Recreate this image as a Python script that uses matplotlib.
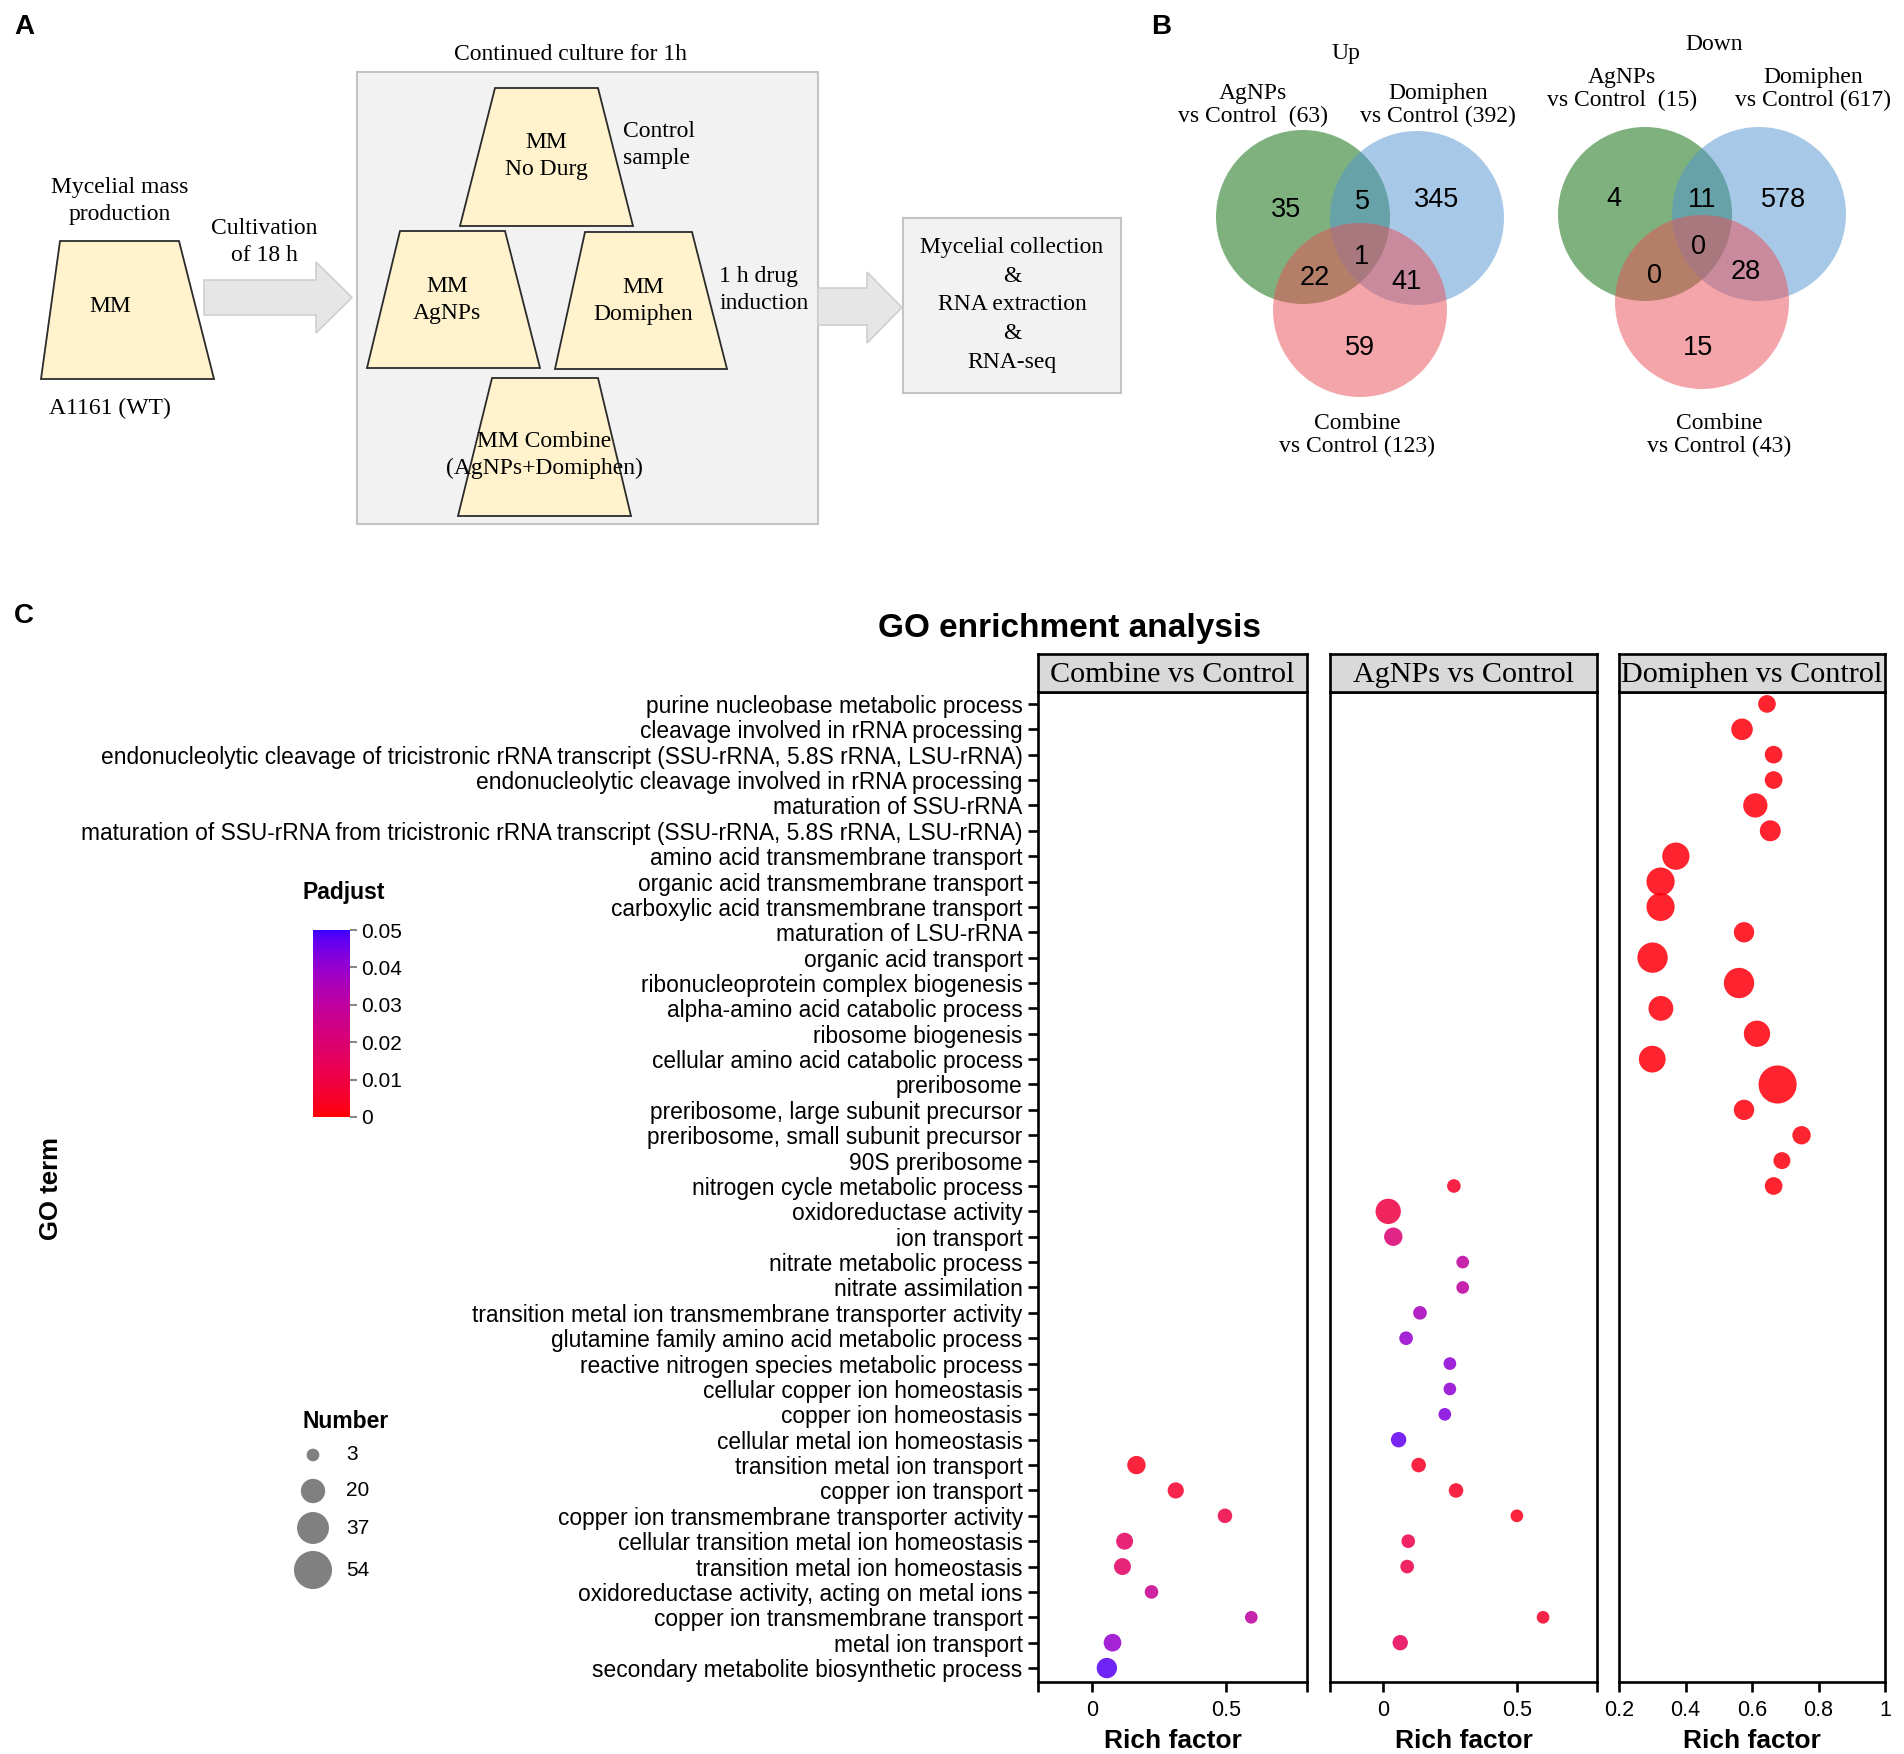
import numpy as np
import matplotlib
matplotlib.use("Agg")
import matplotlib.pyplot as plt
from matplotlib.patches import Polygon, Rectangle, Circle
from matplotlib.colors import ListedColormap
from matplotlib.cm import ScalarMappable
from matplotlib.colors import Normalize

# ---------------- DATA ----------------
go_terms = [
    "purine nucleobase metabolic process",
    "cleavage involved in rRNA processing",
    "endonucleolytic cleavage of tricistronic rRNA transcript (SSU-rRNA, 5.8S rRNA, LSU-rRNA)",
    "endonucleolytic cleavage involved in rRNA processing",
    "maturation of SSU-rRNA",
    "maturation of SSU-rRNA from tricistronic rRNA transcript (SSU-rRNA, 5.8S rRNA, LSU-rRNA)",
    "amino acid transmembrane transport",
    "organic acid transmembrane transport",
    "carboxylic acid transmembrane transport",
    "maturation of LSU-rRNA",
    "organic acid transport",
    "ribonucleoprotein complex biogenesis",
    "alpha-amino acid catabolic process",
    "ribosome biogenesis",
    "cellular amino acid catabolic process",
    "preribosome",
    "preribosome, large subunit precursor",
    "preribosome, small subunit precursor",
    "90S preribosome",
    "nitrogen cycle metabolic process",
    "oxidoreductase activity",
    "ion transport",
    "nitrate metabolic process",
    "nitrate assimilation",
    "transition metal ion transmembrane transporter activity",
    "glutamine family amino acid metabolic process",
    "reactive nitrogen species metabolic process",
    "cellular copper ion homeostasis",
    "copper ion homeostasis",
    "cellular metal ion homeostasis",
    "transition metal ion transport",
    "copper ion transport",
    "copper ion transmembrane transporter activity",
    "cellular transition metal ion homeostasis",
    "transition metal ion homeostasis",
    "oxidoreductase activity, acting on metal ions",
    "copper ion transmembrane transport",
    "metal ion transport",
    "secondary metabolite biosynthetic process",
]

facet_names = ["Combine vs Control", "AgNPs vs Control", "Domiphen vs Control"]

combine_terms = go_terms[30:39]
combine_rich = [0.166, 0.312, 0.495, 0.122, 0.114, 0.222, 0.593, 0.077, 0.056]
combine_number = [10, 7, 5, 8, 8, 4, 3, 9, 13]
combine_padj = [0.003, 0.006, 0.010, 0.016, 0.017, 0.027, 0.030, 0.040, 0.048]

agnps_terms = go_terms[19:35] + go_terms[36:38]
agnps_rich = [0.264, 0.018, 0.037, 0.297, 0.297, 0.137, 0.085, 0.249, 0.249, 0.230,
              0.057, 0.132, 0.272, 0.500, 0.093, 0.089, 0.598, 0.063]
agnps_number = [4, 22, 10, 3, 3, 4, 4, 3, 3, 3, 6, 5, 5, 3, 4, 4, 3, 6]
agnps_padj = [0.005, 0.010, 0.020, 0.030, 0.030, 0.036, 0.040, 0.041, 0.041, 0.043,
              0.047, 0.004, 0.004, 0.003, 0.011, 0.011, 0.005, 0.014]

domiphen_terms = go_terms[0:20]
domiphen_rich = [0.645, 0.570, 0.665, 0.665, 0.610, 0.655, 0.371, 0.325, 0.325, 0.576,
                 0.301, 0.561, 0.326, 0.615, 0.300, 0.677, 0.576, 0.749, 0.690, 0.665]
domiphen_number = [9, 15, 9, 9, 20, 14, 26, 28, 28, 13, 33, 33, 21, 24, 25, 54, 13, 10, 8, 9]
domiphen_padj = [0.001] * 20

size_breaks = [3, 20, 37, 54]
padj_ticks = [0, 0.01, 0.02, 0.03, 0.04, 0.05]
padj_ticklabels = ["0", "0.01", "0.02", "0.03", "0.04", "0.05"]

venn_up_counts = {"A": 35, "AB": 5, "B": 345, "ABC": 1, "AC": 22, "BC": 41, "C": 59}
venn_up_labels = ["AgNPs\nvs Control  (63)", "Domiphen\nvs Control (392)", "Combine\nvs Control (123)"]
venn_down_counts = {"A": 4, "AB": 11, "B": 578, "ABC": 0, "AC": 0, "BC": 28, "C": 15}
venn_down_labels = ["AgNPs\nvs Control  (15)", "Domiphen\nvs Control (617)", "Combine\nvs Control (43)"]

# ---------------- helpers ----------------
W, H = 1904, 1754
SERIF = ["Liberation Serif", "DejaVu Serif"]
SANS = ["Liberation Sans", "DejaVu Sans"]
plt.rcParams["font.family"] = SANS


def rect(x0, y0, x1, y1):
    return [x0 / W, 1 - y1 / H, (x1 - x0) / W, (y1 - y0) / H]


def lab_gradient(c1, c2, n=256):
    def to_lab(rgb):
        rgb = np.asarray(rgb, float)
        lin = np.where(rgb <= 0.04045, rgb / 12.92, ((rgb + 0.055) / 1.055) ** 2.4)
        M = np.array([[0.4124, 0.3576, 0.1805], [0.2126, 0.7152, 0.0722], [0.0193, 0.1192, 0.9505]])
        xyz = M @ lin / np.array([0.95047, 1.0, 1.08883])
        d = 6 / 29
        f = np.where(xyz > d ** 3, np.cbrt(xyz), xyz / (3 * d * d) + 4 / 29)
        return np.array([116 * f[1] - 16, 500 * (f[0] - f[1]), 200 * (f[1] - f[2])])

    def to_rgb(lab):
        L, a, b = lab
        fy = (L + 16) / 116
        fx = fy + a / 500
        fz = fy - b / 200
        d = 6 / 29
        fs = np.array([fx, fy, fz])
        xyz = np.where(fs > d, fs ** 3, 3 * d * d * (fs - 4 / 29)) * np.array([0.95047, 1.0, 1.08883])
        Minv = np.array([[3.2406, -1.5372, -0.4986], [-0.9689, 1.8758, 0.0415], [0.0557, -0.2040, 1.0570]])
        lin = Minv @ xyz
        lin = np.clip(lin, 0, 1)
        rgb = np.where(lin <= 0.0031308, 12.92 * lin, 1.055 * lin ** (1 / 2.4) - 0.055)
        return np.clip(rgb, 0, 1)

    l1, l2 = to_lab(c1), to_lab(c2)
    cols = [to_rgb(l1 + (l2 - l1) * t) for t in np.linspace(0, 1, n)]
    return ListedColormap(cols)


cmap = lab_gradient((1, 0, 0), (0.22, 0.0, 1.0))
norm = Normalize(0, 0.05)


def dot_size(n):
    d_px = np.sqrt(161 + 25.3 * (np.asarray(n, float) - 3))
    return (d_px * 0.72) ** 2


fig = plt.figure(figsize=(W / 100, H / 100), dpi=100)
ax0 = fig.add_axes([0, 0, 1, 1])
ax0.set_xlim(0, W)
ax0.set_ylim(H, 0)
ax0.axis("off")

# ---------------- Panel A ----------------
ax0.text(24, 27, "A", fontsize=20, fontweight="bold", ha="center", va="center")
trap_fc, trap_ec = "#FFF2CC", "#2b2b2b"
box_fc, box_ec = "#F2F2F2", "#C4C4C4"
arrow_fc, arrow_ec = "#E6E6E6", "#CFCFCF"
fsA = 17


def trapezoid(tl, tr, bl, br, top, bottom):
    ax0.add_patch(Polygon([(bl, bottom), (br, bottom), (tr, top), (tl, top)], closed=True,
                          fc=trap_fc, ec=trap_ec, lw=1.3, zorder=3))


def arrow(x0, x1, xh, ys0, ys1, yh0, yh1):
    ym = (yh0 + yh1) / 2
    ax0.add_patch(Polygon([(x0, ys0), (xh, ys0), (xh, yh0), (x1, ym), (xh, yh1), (xh, ys1), (x0, ys1)],
                          closed=True, fc=arrow_fc, ec=arrow_ec, lw=1.2, zorder=2))


def stext(x, y, s, ha="center", ls=1.33, fs=None):
    ax0.text(x, y, s, fontsize=fs or fsA, family=SERIF, ha=ha,
             va="center", zorder=5, linespacing=ls)


ax0.add_patch(Rectangle((357, 72), 818 - 357, 524 - 72, fc=box_fc, ec=box_ec, lw=1.5, zorder=1))
ax0.add_patch(Rectangle((903, 218), 1121 - 903, 393 - 218, fc=box_fc, ec=box_ec, lw=1.5, zorder=1))

trapezoid(60, 179, 41, 214, 241, 379)
stext(110, 307, "MM")
stext(120, 201, "Mycelial mass\nproduction")
stext(110, 408, "A1161 (WT)")

arrow(204, 352, 316, 280, 315, 262, 333)
stext(264, 242, "Cultivation\nof 18 h")

stext(570, 55, "Continued culture for 1h")
trapezoid(495, 598, 460, 633, 88, 226)
stext(546, 156, "MM\nNo Durg")
stext(623, 145, "Control\nsample", ha="left")

trapezoid(400, 505, 367, 540, 231, 368)
stext(447, 300, "MM\nAgNPs")
trapezoid(585, 692, 555, 727, 232, 369)
stext(643, 301, "MM\nDomiphen")
stext(719, 290, "1 h drug\ninduction", ha="left")

trapezoid(492, 598, 458, 631, 378, 516)
stext(544, 455, "MM Combine\n(AgNPs+Domiphen)")

arrow(818, 902, 867, 288, 325, 272, 343)
stext(1012, 305, "Mycelial collection\n&\nRNA extraction\n&\nRNA-seq", ls=1.48)

# ---------------- Panel B ----------------
ax0.text(1161, 27, "B", fontsize=20, fontweight="bold", ha="center", va="center")
venn_cols = ["#006500", "#5195D1", "#EB4D55"]


def venn(centers, r, counts, labels, title, title_xy, label_xy, count_xy):
    for (cx, cy), col in zip(centers, venn_cols):
        ax0.add_patch(Circle((cx, cy), r, fc=col, ec="none", alpha=0.5, zorder=2))
    stext(title_xy[0], title_xy[1], title)
    for (x, y), s in zip(label_xy, labels):
        stext(x, y, s, ls=1.15)
    for key, (x, y) in count_xy.items():
        ax0.text(x, y, str(counts[key]), fontsize=19.5, ha="center", va="center", zorder=5)


venn([(1303, 217), (1417, 218), (1360, 310)], 87, venn_up_counts, venn_up_labels, "Up", (1346, 53),
     [(1253, 105), (1438, 105), (1357, 435)],
     {"A": (1286, 210), "AB": (1362, 202), "B": (1437, 200), "ABC": (1361, 257),
      "AC": (1315, 278), "BC": (1406, 282), "C": (1360, 348)})
venn([(1645, 214), (1759, 214), (1702, 302)], 87, venn_down_counts, venn_down_labels, "Down", (1714, 45),
     [(1622, 89), (1813, 89), (1719, 435)],
     {"A": (1614, 199), "AB": (1702, 200), "B": (1784, 200), "ABC": (1698, 247),
      "AC": (1654, 276), "BC": (1746, 272), "C": (1698, 348)})

# ---------------- Panel C ----------------
ax0.text(24, 616, "C", fontsize=20, fontweight="bold", ha="center", va="center")
fig.text(1069 / W, 1 - 629 / H, "GO enrichment analysis", fontsize=24, fontweight="bold",
         ha="center", va="center")

facet_px = [(1038, 1307), (1330, 1597), (1619, 1885)]
facet_data = [
    (combine_terms, combine_rich, combine_number, combine_padj),
    (agnps_terms, agnps_rich, agnps_number, agnps_padj),
    (domiphen_terms, domiphen_rich, domiphen_number, domiphen_padj),
]
facet_xlim = [(-0.2, 0.8), (-0.2, 0.8), (0.2, 1.0)]
facet_ticks = [([0, 0.5], ["0", "0.5"]), ([0, 0.5], ["0", "0.5"]),
               ([0.2, 0.4, 0.6, 0.8, 1.0], ["0.2", "0.4", "0.6", "0.8", "1"])]
idx = {t: i for i, t in enumerate(go_terms)}
LW = 1.9

for k, ((x0, x1), (terms, rich, num, padj)) in enumerate(zip(facet_px, facet_data)):
    ax = fig.add_axes(rect(x0, 692, x1, 1682))
    ys = [idx[t] for t in terms]
    ax.scatter(rich, ys, s=dot_size(num), c=padj, cmap=cmap, norm=norm, edgecolors="none",
               alpha=0.86, zorder=3, clip_on=False)
    ax.set_xlim(*facet_xlim[k])
    ax.set_ylim(len(go_terms) - 1 + 0.55, -0.47)
    ax.set_xticks(facet_ticks[k][0])
    ax.set_xticklabels(facet_ticks[k][1])
    ax.set_xticks(list(facet_xlim[k]), minor=True)
    for sp in ax.spines.values():
        sp.set_linewidth(LW)
    ax.tick_params(axis="x", which="both", length=7, width=LW, labelsize=15.5, pad=6)
    ax.set_xlabel("Rich factor", fontsize=19, fontweight="bold", labelpad=6)
    if k == 0:
        ax.set_yticks(range(len(go_terms)))
        ax.set_yticklabels(go_terms, fontsize=16.4)
        ax.tick_params(axis="y", length=7, width=LW, pad=4)
    else:
        ax.set_yticks([])
    sax = fig.add_axes(rect(x0, 654, x1, 692))
    sax.set_facecolor("#D9D9D9")
    sax.set_xticks([])
    sax.set_yticks([])
    for sp in sax.spines.values():
        sp.set_linewidth(LW)
    sax.text(0.5, 0.45, facet_names[k], transform=sax.transAxes, ha="center", va="center",
             fontsize=21.7, family=SERIF)

fig.text(51 / W, 1 - 1188 / H, "GO term", rotation=90, fontsize=18.5, fontweight="bold",
         ha="center", va="center")

# Padjust colorbar
ax0.text(303, 892, "Padjust", fontsize=16.5, fontweight="bold", ha="left", va="center")
cax = fig.add_axes(rect(313, 930, 350, 1117))
cb = fig.colorbar(ScalarMappable(norm=norm, cmap=cmap), cax=cax)
cb.outline.set_visible(False)
cb.set_ticks(padj_ticks)
cb.set_ticklabels(padj_ticklabels)
cax.tick_params(length=5, width=1.5, color="#888888", labelsize=15, pad=3)

# Number legend
ax0.text(303, 1421, "Number", fontsize=16.5, fontweight="bold", ha="left", va="center")
leg_y = [1455, 1491, 1528, 1570]
for y, n in zip(leg_y, size_breaks):
    ax0.scatter([313], [y], s=dot_size(n), color="#808080", edgecolors="none")
    ax0.text(346, y, str(n), fontsize=15, ha="left", va="center")

fig.savefig("out.png", dpi=100)
